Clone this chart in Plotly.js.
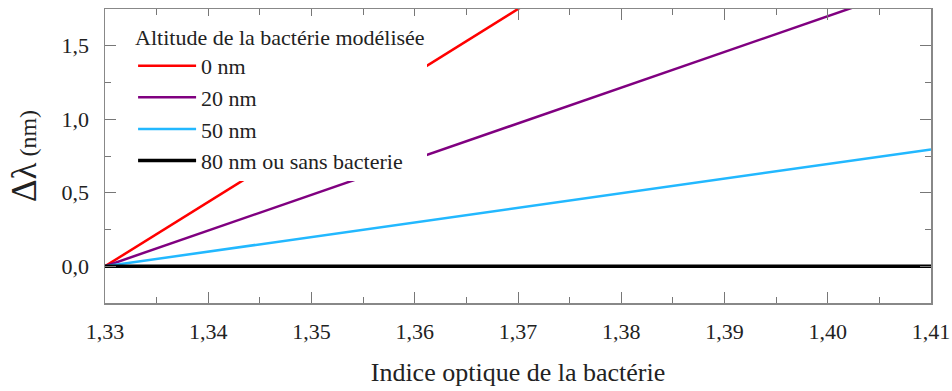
<!DOCTYPE html>
<html><head><meta charset="utf-8">
<script src="https://cdn.plot.ly/plotly-3.0.1.min.js"></script>
<style>html,body{margin:0;padding:0;background:#fff}#chart{width:952px;height:391px}</style>
</head><body><div id="chart"></div>
<script>
var indice = [1.33, 1.41];
var names = ["0 nm", "20 nm", "50 nm", "80 nm ou sans bacterie"];
var dl0 = [0, 3.5];
var dl20 = [0, 1.944];
var dl50 = [0, 0.795];
var dl80 = [0, 0];
var colors = ["#ff0000", "#800080", "#22b8ff", "#000000"];
var widths = [2.5, 2.5, 2.5, 3.5];
var series = [dl0, dl20, dl50, dl80];
var traces = series.map(function(s, i){
  return {x: indice, y: s, mode: "lines", name: names[i], line: {color: colors[i], width: widths[i]}};
});
var serif = "Liberation Serif";
var txt = "#222";
var layout = {
  width: 952, height: 391,
  margin: {l: 105, r: 21, t: 9, b: 88},
  paper_bgcolor: "#fff", plot_bgcolor: "#fff",
  separators: ", ",
  font: {family: serif, size: 22, color: txt},
  showlegend: true,
  legend: {x: 0.034, y: 0.975, xanchor: "left", yanchor: "top", bgcolor: "rgba(255,255,255,1)", borderwidth: 0,
    title: {text: "Altitude de la bactérie modélisée", font: {family: serif, size: 22, color: txt}},
    font: {family: serif, size: 22, color: txt}, itemwidth: 58, tracegroupgap: 0},
  xaxis: {range: [1.33, 1.41], dtick: 0.01, tick0: 1.33, tickformat: ".2f", ticks: "inside", ticklen: 11, tickcolor: "#777", tickwidth: 1,
    minor: {dtick: 0.005, ticks: "inside", ticklen: 6, tickcolor: "#777"},
    showline: true, linecolor: "#888", linewidth: 1.5, mirror: "ticks", showgrid: false, zeroline: false,
    ticklabelstandoff: 8,
    tickfont: {family: serif, size: 22, color: txt},
    title: {text: "Indice optique de la bactérie", font: {family: serif, size: 26, color: txt}, standoff: 20}},
  yaxis: {range: [-0.25, 1.75], dtick: 0.5, tick0: 0, tickformat: ".1f", ticks: "inside", ticklen: 11, tickcolor: "#777", tickwidth: 1,
    minor: {dtick: 0.25, ticks: "inside", ticklen: 6, tickcolor: "#777"},
    showline: true, linecolor: "#888", linewidth: 1.5, mirror: "ticks", showgrid: false, zeroline: false,
    ticklabelstandoff: 10,
    tickfont: {family: serif, size: 22, color: txt},
    title: {text: "<span style='font-size:35px'>Δλ</span> (nm)", font: {family: serif, size: 24, color: txt}, standoff: 18}}
};
Plotly.newPlot("chart", traces, layout, {displayModeBar: false, staticPlot: true});
</script></body></html>
